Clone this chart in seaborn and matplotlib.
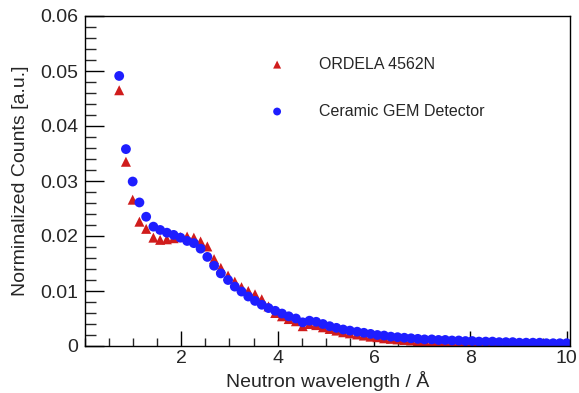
import numpy as np
import pandas as pd
import matplotlib.pyplot as plt
import seaborn as sns

# wavelength bin centres (Angstrom)
wavelength = [
    0.71, 0.85, 0.99, 1.13, 1.27, 1.42, 1.56, 1.70, 1.84, 1.98,
    2.12, 2.26, 2.40, 2.54, 2.68, 2.82, 2.97, 3.11, 3.25, 3.39,
    3.53, 3.67, 3.81, 3.95, 4.09, 4.23, 4.38, 4.52, 4.66, 4.80,
    4.94, 5.08, 5.22, 5.36, 5.50, 5.65, 5.79, 5.93, 6.07, 6.21,
    6.35, 6.49, 6.63, 6.77, 6.91, 7.05, 7.20, 7.34, 7.48, 7.62,
    7.76, 7.90, 8.04, 8.18, 8.32, 8.46, 8.60, 8.74, 8.88, 9.02,
    9.16, 9.30, 9.44, 9.58, 9.72, 9.86, 10.00,
]

ordela = [
    0.0465, 0.0335, 0.0266, 0.0226, 0.0213, 0.0197, 0.0193, 0.0194, 0.0196, 0.0198,
    0.0199, 0.0197, 0.0190, 0.0181, 0.0158, 0.0142, 0.0128, 0.0117, 0.0107, 0.0100,
    0.0094, 0.0085, 0.0072, 0.0060, 0.0054, 0.0049, 0.0045, 0.0036, 0.0040, 0.0038,
    0.0034, 0.0031, 0.0028, 0.0025, 0.0023, 0.0021, 0.0019, 0.0017, 0.0016, 0.0014,
    0.0013, 0.0012, 0.0011, 0.0010, 0.0009, 0.0009, 0.0008, 0.0008, 0.0007, 0.0007,
    0.0006, 0.0006, 0.0006, 0.0005, 0.0005, 0.0005, 0.0004, 0.0004, 0.0004, 0.0004,
    0.0003, 0.0003, 0.0003, 0.0003, 0.0003, 0.0003, 0.0003,
]

gem = [
    0.0491, 0.0358, 0.0299, 0.0261, 0.0235, 0.0217, 0.0211, 0.0206, 0.0202, 0.0197,
    0.0191, 0.0187, 0.0177, 0.0162, 0.0146, 0.0132, 0.0120, 0.0108, 0.0099, 0.0090,
    0.0082, 0.0075, 0.0069, 0.0064, 0.0059, 0.0054, 0.0050, 0.0043, 0.0046, 0.0044,
    0.0040, 0.0036, 0.0033, 0.0030, 0.0028, 0.0026, 0.0024, 0.0022, 0.0020, 0.0019,
    0.0017, 0.0016, 0.0015, 0.0014, 0.0013, 0.0012, 0.0012, 0.0011, 0.0011, 0.0010,
    0.0010, 0.0009, 0.0009, 0.0008, 0.0008, 0.0008, 0.0007, 0.0007, 0.0007, 0.0006,
    0.0006, 0.0006, 0.0006, 0.0005, 0.0005, 0.0005, 0.0005,
]

sns.set_style("ticks")
plt.rcParams["font.family"] = ["Liberation Sans", "DejaVu Sans"]

df = pd.DataFrame({"wavelength": wavelength, "ordela": ordela, "gem": gem})

fig, ax = plt.subplots(figsize=(5.79, 3.93), dpi=100)
fig.subplots_adjust(left=85 / 579, right=570 / 579, bottom=47 / 393, top=377 / 393)

sns.scatterplot(data=df, x="wavelength", y="ordela", ax=ax, marker="^", s=52,
                color="#d01c1c", edgecolor="none", label="ORDELA 4562N")
sns.scatterplot(data=df, x="wavelength", y="gem", ax=ax, marker="o", s=50,
                color="#1e1eff", edgecolor="none", label="Ceramic GEM Detector")

ax.set_xlim(0, 10.07)
ax.set_ylim(0, 0.06)
ax.set_xticks([2, 4, 6, 8, 10])
ax.set_xticks(np.arange(0, 10.01, 0.5), minor=True)
ax.set_yticks([0, 0.01, 0.02, 0.03, 0.04, 0.05, 0.06])
ax.set_yticklabels(["0", "0.01", "0.02", "0.03", "0.04", "0.05", "0.06"])
ax.set_yticks(np.arange(0, 0.0601, 0.002), minor=True)

ax.tick_params(axis="both", which="major", direction="in", labelsize=14, width=1, color="black")
ax.tick_params(axis="x", which="major", length=11, pad=3)
ax.tick_params(axis="y", which="major", length=14, pad=5)
ax.tick_params(axis="x", which="minor", direction="in", length=6, width=1)
ax.tick_params(axis="y", which="minor", direction="in", length=8, width=1)

for side in ["top", "right", "left", "bottom"]:
    ax.spines[side].set_visible(True)
    ax.spines[side].set_color("black")
    ax.spines[side].set_linewidth(1)

ax.set_xlabel("Neutron wavelength / Å", fontsize=14, labelpad=3)
ax.set_ylabel("Norminalized Counts [a.u.]", fontsize=14, labelpad=8)

ax.legend(loc="upper left", bbox_to_anchor=(0.35, 0.92), frameon=False,
          fontsize=11.5, handlelength=1.0, handletextpad=2.1, labelspacing=2.0,
          markerscale=0.8)

fig.savefig("out.png", dpi=100)
